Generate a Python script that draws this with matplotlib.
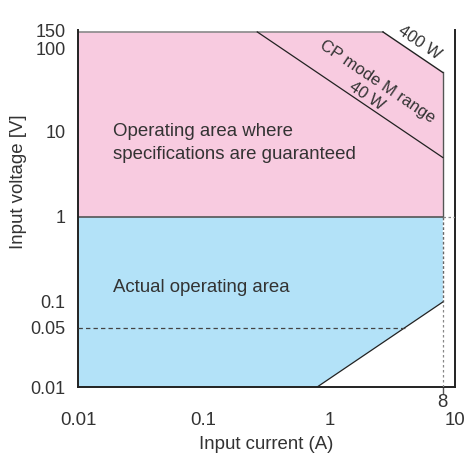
import matplotlib
matplotlib.use("Agg")
import matplotlib.pyplot as plt
import matplotlib.transforms as mtransforms

plt.rcParams['font.family'] = ['Liberation Sans', 'DejaVu Sans']

# ---- data ----
x_ticks = [0.01, 0.1, 1, 10]
x_tick_labels = ["0.01", "0.1", "1", "10"]
y_ticks = [0.01, 0.05, 0.1, 1, 10, 100, 150]
y_tick_labels = ["0.01", "0.05", "0.1", "1", "10", "100", "150"]

# guaranteed-spec region boundary (current A, voltage V)
spec_i = [0.01, 2.67, 8, 8, 0.01]
spec_v = [150, 150, 50, 1, 1]
# actual operating region boundary
act_i = [0.01, 8, 8, 0.8, 0.01]
act_v = [1, 1, 0.1, 0.01, 0.01]
# 40 W line (CP mode M range)
w40_i = [0.267, 8]
w40_v = [150, 5]
# 400 W line
w400_i = [2.67, 8]
w400_v = [150, 50]
# low-voltage resistance limit
lim_i = [0.8, 8]
lim_v = [0.01, 0.1]
# reference lines
dash005_i = [0.01, 4]
dash005_v = [0.05, 0.05]
i_max = 8

text_col = "#333333"
pink = "#F8CBE0"
blue = "#B3E2F8"
fs = 13.4

fig = plt.figure(figsize=(4.68, 4.57), dpi=100)
ax = fig.add_axes([78/468, 1-387/457, (455-78)/468, (387-30)/457])
ax.set_xscale('log')
ax.set_yscale('log')
ax.set_xlim(0.01, 10)
ax.set_ylim(0.01, 158)

ax.fill(spec_i, spec_v, color=pink, lw=0, zorder=1)
ax.fill(act_i, act_v, color=blue, lw=0, zorder=1)

# region edges
ax.plot(spec_i[:2], spec_v[:2], color="#8a8a8a", lw=1.2, zorder=2)
ax.plot([0.01, 8], [1, 1], color="#555555", lw=1.2, zorder=2)
ax.plot([8, 8], [50, 1], color="#555555", lw=1.0, zorder=2)
ax.plot([8, 8], [1, 0.1], color="#666666", lw=1.0, ls=(0, (2, 1.5)), zorder=2)
ax.plot(w400_i, w400_v, color="#222222", lw=1.0, zorder=3)
ax.plot(w40_i, w40_v, color="#222222", lw=0.9, zorder=3)
ax.plot(lim_i, lim_v, color="#222222", lw=0.9, zorder=3)

# reference dotted/dashed lines
ax.plot(dash005_i, dash005_v, color="#444444", lw=0.9, ls=(0, (3.5, 2.5)), zorder=3)
ax.plot([i_max, i_max], [0.01, 0.1], color="#888888", lw=0.9, ls=(0, (2, 2)), zorder=3)
ax.plot([i_max, 10], [1, 1], color="#888888", lw=0.9, ls=(0, (2, 2)), zorder=3)

# texts
ax.text(0.019, 7.4, "Operating area where\nspecifications are guaranteed",
        fontsize=fs, color=text_col, ha='left', va='center', linespacing=1.5, zorder=4)
ax.text(0.019, 0.15, "Actual operating area",
        fontsize=fs, color=text_col, ha='left', va='center', zorder=4)
ax.text(2.39, 38.7, "CP mode M range", fontsize=12, color=text_col, rotation=-34,
        rotation_mode='anchor', ha='center', va='center', zorder=4)
ax.text(1.99, 26.5, "40 W", fontsize=12, color=text_col, rotation=-34,
        rotation_mode='anchor', ha='center', va='center', zorder=4)
ax.text(5.26, 111, "400 W", fontsize=12, color=text_col, rotation=-34,
        rotation_mode='anchor', ha='center', va='center', zorder=4)

# axes styling
for s in ['left', 'bottom', 'right']:
    ax.spines[s].set_color("#222222")
    ax.spines[s].set_linewidth(1.4)
ax.spines['top'].set_visible(False)

ax.minorticks_off()
ax.set_xticks(x_ticks)
ax.set_xticklabels(x_tick_labels)
ax.set_yticks(y_ticks)
ax.set_yticklabels(y_tick_labels)
ax.xaxis.set_minor_locator(matplotlib.ticker.FixedLocator([0.1]))
ax.xaxis.set_minor_formatter(matplotlib.ticker.NullFormatter())
ax.yaxis.set_minor_locator(matplotlib.ticker.NullLocator())
ax.tick_params(axis='x', which='major', length=0, pad=18, labelsize=fs, labelcolor=text_col)
ax.tick_params(axis='x', which='minor', direction='in', length=5, width=1.0, color="#222222")
ax.tick_params(axis='y', which='major', length=0, pad=9, labelsize=13, labelcolor=text_col)

sec = ax.secondary_xaxis('bottom')
sec.set_xticks([i_max])
sec.set_xticklabels(["8"])
sec.tick_params(length=5, width=1.0, color="#555555", pad=0, labelsize=fs, labelcolor=text_col)
sec.spines['bottom'].set_visible(False)
sec.xaxis.set_minor_locator(matplotlib.ticker.NullLocator())

ax.set_xlabel("Input current (A)", fontsize=fs, color=text_col, labelpad=5)
ax.set_ylabel("Input voltage [V]", fontsize=fs, color=text_col)
ax.yaxis.set_label_coords(-0.135, 0.574)

# nudge the crowded 100 / 150 labels apart
nudges = {"150": 1.5, "100": -2.0}
for tick in ax.yaxis.get_major_ticks():
    lab = tick.label1
    txt = lab.get_text()
    if txt in nudges:
        lab.set_transform(lab.get_transform() +
                          mtransforms.ScaledTranslation(0, nudges[txt] / 100, fig.dpi_scale_trans))

fig.savefig("out.png", dpi=100)
